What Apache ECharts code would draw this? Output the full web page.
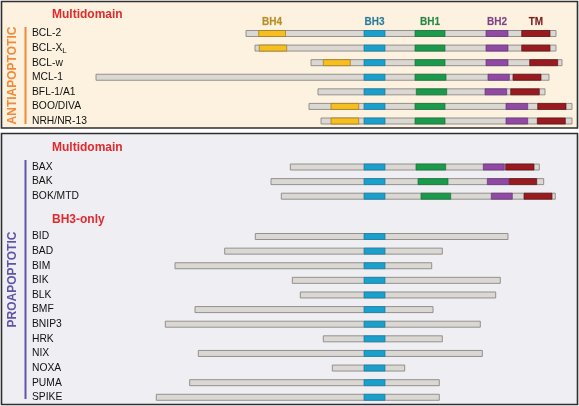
<!DOCTYPE html>
<html><head><meta charset="utf-8">
<script src="https://cdn.jsdelivr.net/npm/echarts@6/dist/echarts.min.js"></script>
<style>html,body{margin:0;padding:0;background:#fff}#c{width:579px;height:406px}</style>
</head><body><div id="c"></div>
<script>
// ---------- DATA ----------
var antiNames = ['BCL-2','BCL-XL','BCL-w','MCL-1','BFL-1/A1','BOO/DIVA','NRH/NR-13'];
var antiStart = [246, 255, 311, 96, 318, 309, 321];
var antiEnd   = [556, 556, 562, 549, 545, 572, 572];
var antiBH4 = [[258.7,285.5],[259.3,286.7],[323.3,350.3],null,null,[331,358.7],[331,358.7]];
var antiBH3 = [[364,385],[364,385],[364,385],[364,385],[364,385],[364,385],[364,385]];
var antiBH1 = [[415,445],[415,445],[415,445],[415,446],[416.3,446.7],[415,445],[415,445]];
var antiBH2 = [[486,508],[486,508],[486,508],[488,509.3],[485,506.7],[506,527.7],[506,527.7]];
var antiTM  = [[521.7,550],[521.7,550],[529.7,557.7],[513,541],[510.7,539.3],[537.7,566],[537.3,565.3]];

var proMultiNames = ['BAX','BAK','BOK/MTD'];
var proMultiStart = [290.3, 271, 281.3];
var proMultiEnd   = [539.3, 543.7, 555.3];
var proMultiBH3 = [[364,385],[364,385],[364,385]];
var proMultiBH1 = [[416,445.7],[418,448],[421,450.7]];
var proMultiBH2 = [[483.3,504.3],[487.3,508.7],[491.3,512.3]];
var proMultiTM  = [[505.7,534],[509.3,536.7],[524,552]];

var bh3OnlyNames = ['BID','BAD','BIM','BIK','BLK','BMF','BNIP3','HRK','NIX','NOXA','PUMA','SPIKE'];
var bh3OnlyStart = [255.3, 224.7, 175, 292.3, 300.3, 195, 165.3, 323.3, 198.3, 332.3, 189.7, 156.3];
var bh3OnlyEnd   = [508, 442.3, 431.7, 500.3, 495.7, 433, 480.3, 442.3, 482.3, 404.7, 439.3, 439.3];
var bh3OnlyBH3   = [[364,385],[364,385],[364,385],[364,385],[364,385],[364,385],[364,385],[364,385],[364,385],[364,385],[364,385],[364,385]];

var domainNames = ['BH4','BH3','BH1','BH2','TM'];

// ---------- STYLE ----------
var FONT = '"Liberation Sans", Arial, Helvetica, sans-serif';
var domainFill = {BH4:'#f6be1e', BH3:'#1ba0cd', BH1:'#1c9a4c', BH2:'#9149a4', TM:'#991b20'};
var domainStroke = {BH4:'#9c7a20', BH3:'#167a9c', BH1:'#16703a', BH2:'#62347a', TM:'#5e1216'};
var headerColor = {BH4:'#b8901c', BH3:'#1d7ea5', BH1:'#1f8a46', BH2:'#7d3f8e', TM:'#7a1a1c'};

var chart = echarts.init(document.getElementById('c'), null, {renderer:'canvas'});

var grids = [
  {left:0, width:579, top:26.2, height:102.1},
  {left:0, width:579, top:159.7, height:43.8},
  {left:0, width:579, top:229.2, height:175.4}
];
var groupNames = [antiNames, proMultiNames, bh3OnlyNames];

var xAxes = grids.map(function(g,i){
  return {type:'value', gridIndex:i, min:0, max:579, show:false};
});
var yAxes = groupNames.map(function(names,i){
  return {
    type:'category', gridIndex:i, data:names, inverse:true,
    axisLine:{show:false}, axisTick:{show:false}, splitLine:{show:false},
    axisLabel:{
      inside:true, margin:32, fontSize:10.3, color:'#111', fontFamily:FONT,
      formatter:function(v){ return v === 'BCL-XL' ? 'BCL-X{sub|L}' : v; },
      rich:{sub:{fontSize:8, verticalAlign:'bottom', padding:[6,0,0,0], color:'#111', fontFamily:FONT}}
    }
  };
});

function segData(starts, ends){
  return starts.map(function(s,i){ return [s, ends[i], i]; });
}
function domData(arr){
  var out = [];
  arr.forEach(function(d,i){ if (d) out.push([d[0], d[1], i]); });
  return out;
}
function rectRenderer(fill, stroke, lw){
  return function(params, api){
    var p0 = api.coord([api.value(0), api.value(2)]);
    var p1 = api.coord([api.value(1), api.value(2)]);
    var h = 6;
    return {type:'rect', shape:{x:p0[0], y:p0[1]-h/2, width:p1[0]-p0[0], height:h},
      style:{fill:fill, stroke:stroke, lineWidth:lw}};
  };
}

var series = [];
function addGroup(gi, starts, ends, doms){
  series.push({type:'custom', xAxisIndex:gi, yAxisIndex:gi, data:segData(starts, ends),
    renderItem:rectRenderer('#dbd7d2', '#8a8886', 0.9), silent:true, z:2});
  domainNames.forEach(function(dn){
    if (!doms[dn]) return;
    series.push({type:'custom', xAxisIndex:gi, yAxisIndex:gi, data:domData(doms[dn]),
      renderItem:rectRenderer(domainFill[dn], domainStroke[dn], 0.7), silent:true, z:3});
  });
}
addGroup(0, antiStart, antiEnd, {BH4:antiBH4, BH3:antiBH3, BH1:antiBH1, BH2:antiBH2, TM:antiTM});
addGroup(1, proMultiStart, proMultiEnd, {BH3:proMultiBH3, BH1:proMultiBH1, BH2:proMultiBH2, TM:proMultiTM});
addGroup(2, bh3OnlyStart, bh3OnlyEnd, {BH3:bh3OnlyBH3});

// domain header labels above first row (centred on BCL-2's domains)
var headerSrc = {BH4:antiBH4[0], BH3:antiBH3[0], BH1:antiBH1[0], BH2:antiBH2[0], TM:antiTM[0]};
series.push({type:'custom', xAxisIndex:0, yAxisIndex:0, silent:true, z:4,
  data: domainNames.map(function(dn){ return [(headerSrc[dn][0]+headerSrc[dn][1])/2, 0, dn]; }),
  renderItem:function(params, api){
    var p = api.coord([api.value(0), api.value(1)]);
    var dn = domainNames[params.dataIndex];
    return {type:'text', style:{x:p[0], y:p[1]-11.5, text:dn, textAlign:'center', textVerticalAlign:'middle',
      fill:headerColor[dn], font:'bold 10px ' + FONT, stroke:'rgba(60,40,20,0.25)', lineWidth:0.4}};
  }
});

var graphic = [
  {type:'rect', shape:{x:1.5, y:1.5, width:576, height:126.5}, style:{fill:'#fcf2df', stroke:'#2f2f2f', lineWidth:1.6}, z:-10, silent:true},
  {type:'rect', shape:{x:1.5, y:133.5, width:576, height:271}, style:{fill:'#eeeef3', stroke:'#2f2f2f', lineWidth:1.6}, z:-10, silent:true},
  {type:'text', x:52, y:14.5, style:{text:'Multidomain', font:'bold 12px ' + FONT, fill:'#e02a2e', textVerticalAlign:'middle'}},
  {type:'text', x:52, y:148, style:{text:'Multidomain', font:'bold 12px ' + FONT, fill:'#e02a2e', textVerticalAlign:'middle'}},
  {type:'text', x:52, y:219.3, style:{text:'BH3-only', font:'bold 12px ' + FONT, fill:'#e02a2e', textVerticalAlign:'middle'}},
  {type:'text', x:13, y:75.5, rotation:Math.PI/2, style:{text:'ANTIAPOPTOTIC', font:'bold 12px ' + FONT, fill:'#f0893a', textAlign:'center', textVerticalAlign:'middle'}},
  {type:'text', x:13, y:279.5, rotation:Math.PI/2, style:{text:'PROAPOPTOTIC', font:'bold 12px ' + FONT, fill:'#5f55a6', textAlign:'center', textVerticalAlign:'middle'}},
  {type:'line', shape:{x1:25.5, y1:27, x2:25.5, y2:124}, style:{stroke:'#f0893a', lineWidth:2}},
  {type:'line', shape:{x1:25.5, y1:160, x2:25.5, y2:399}, style:{stroke:'#5f55a6', lineWidth:2}}
];

chart.setOption({
  animation:false,
  backgroundColor:'#ffffff',
  grid:grids, xAxis:xAxes, yAxis:yAxes, series:series, graphic:graphic
});
</script></body></html>
